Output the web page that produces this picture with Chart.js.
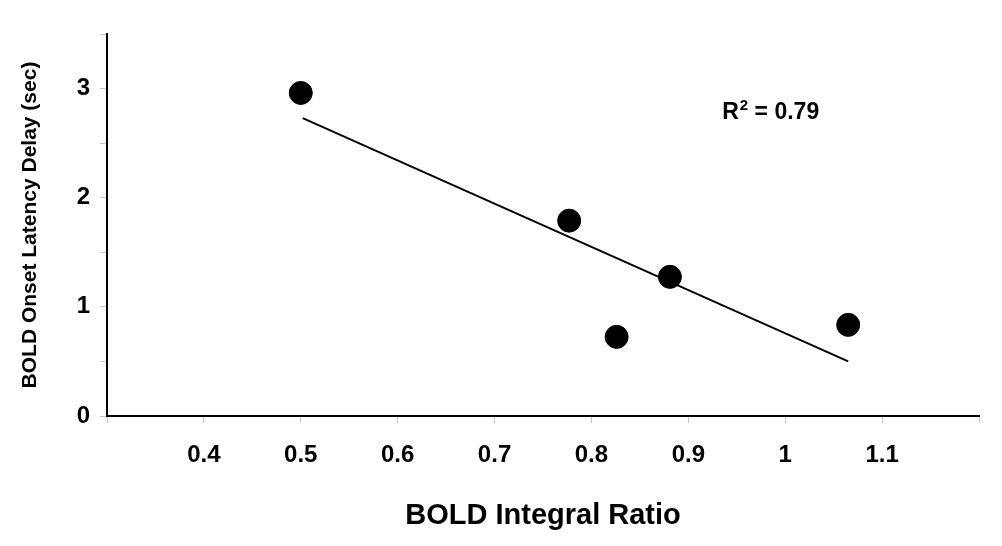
<!DOCTYPE html>
<html>

<head>
    <script src="https://cdn.jsdelivr.net/npm/chart.js@4/dist/chart.umd.min.js"></script>
    <style>
        html, body { margin: 0; padding: 0; background: #fff; }
        #wrap { width: 1002px; height: 546px; }
    </style>
</head>

<body>
    <div id="wrap">
        <canvas id="myChart" width="1002" height="546"></canvas>
    </div>
</body>

<script>

    // values
    const integralRatio = [0.5, 0.777, 0.826, 0.881, 1.065]
    const onsetDelay = [2.96, 1.79, 0.725, 1.275, 0.835]
    const trendX = [0.502, 1.065]
    const trendY = [2.73, 0.50]
    const xTickLabels = ['0.4', '0.5', '0.6', '0.7', '0.8', '0.9', '1', '1.1']
    const yTickLabels = ['0', '1', '2', '3']
    const r2Text = '0.79'

    const FONT = 'Arial, "Liberation Sans", sans-serif'

    const pts = integralRatio.map((x, i) => ({ x: x, y: onsetDelay[i] }))
    const trend = trendX.map((x, i) => ({ x: x, y: trendY[i] }))

    // R² label
    const r2Plugin = {
        id: 'r2',
        afterDatasetsDraw(chart) {
            const ctx = chart.ctx
            const xs = chart.scales.x, ys = chart.scales.y
            let px = xs.getPixelForValue(0.935)
            const py = ys.getPixelForValue(2.72)
            ctx.save()
            ctx.fillStyle = '#000'
            ctx.textBaseline = 'alphabetic'
            ctx.font = 'bold 23px ' + FONT
            ctx.fillText('R', px, py)
            px += ctx.measureText('R').width
            ctx.font = 'bold 15px ' + FONT
            ctx.fillText('2', px + 1, py - 9)
            px += ctx.measureText('2').width + 1
            ctx.font = 'bold 23px ' + FONT
            ctx.fillText(' = ' + r2Text, px, py)
            ctx.restore()
        }
    }

    const config = {
        type: 'scatter',
        data: {
            datasets: [{
                label: 'data',
                data: pts,
                backgroundColor: '#000',
                borderColor: '#000',
                pointRadius: 11.5,
                pointHoverRadius: 11.5
            }, {
                label: 'trend',
                data: trend,
                showLine: true,
                borderColor: '#000',
                borderWidth: 2,
                pointRadius: 0,
                fill: false
            }]
        },
        options: {
            responsive: false,
            animation: false,
            layout: { padding: { top: 34, right: 23, left: 0, bottom: 0 } },
            plugins: {
                legend: { display: false },
                tooltip: { enabled: false }
            },
            scales: {
                x: {
                    type: 'linear',
                    min: 0.3,
                    max: 1.2,
                    afterFit: (s) => { s.height = 130 },
                    afterBuildTicks: (s) => {
                        s.ticks = []
                        for (let i = 0; i <= 9; i++) s.ticks.push({ value: Math.round((0.3 + i * 0.1) * 10) / 10 })
                    },
                    border: { color: '#000', width: 2 },
                    grid: { drawOnChartArea: false, drawTicks: true, tickLength: 7, tickColor: '#c8c8c8', tickWidth: 1 },
                    ticks: {
                        autoSkip: false,
                        maxRotation: 0,
                        padding: 18,
                        color: '#000',
                        font: { family: FONT, size: 24, weight: 'bold' },
                        callback: (v) => {
                            const s = String(Math.round(v * 10) / 10)
                            return xTickLabels.includes(s) ? s : ''
                        }
                    },
                    title: {
                        display: true,
                        text: 'BOLD Integral Ratio',
                        color: '#000',
                        font: { family: FONT, size: 29, weight: 'bold' },
                        padding: { top: 0, bottom: 13 }
                    }
                },
                y: {
                    type: 'linear',
                    min: 0,
                    max: 3.5,
                    afterFit: (s) => { s.width = 107 },
                    border: { color: '#000', width: 2 },
                    grid: { drawOnChartArea: false, drawTicks: true, tickLength: 7, tickColor: '#c8c8c8', tickWidth: 1 },
                    ticks: {
                        stepSize: 0.5,
                        autoSkip: false,
                        padding: 10,
                        color: '#000',
                        font: { family: FONT, size: 24, weight: 'bold' },
                        callback: (v) => yTickLabels.includes(String(v)) ? String(v) : ''
                    },
                    title: {
                        display: true,
                        text: 'BOLD Onset Latency Delay (sec)',
                        color: '#000',
                        font: { family: FONT, size: 21, weight: 'bold' },
                        padding: { top: 18, bottom: 0 }
                    }
                }
            }
        },
        plugins: [r2Plugin]
    }

    const myChart = new Chart(document.getElementById('myChart'), config)

</script>

</html>
